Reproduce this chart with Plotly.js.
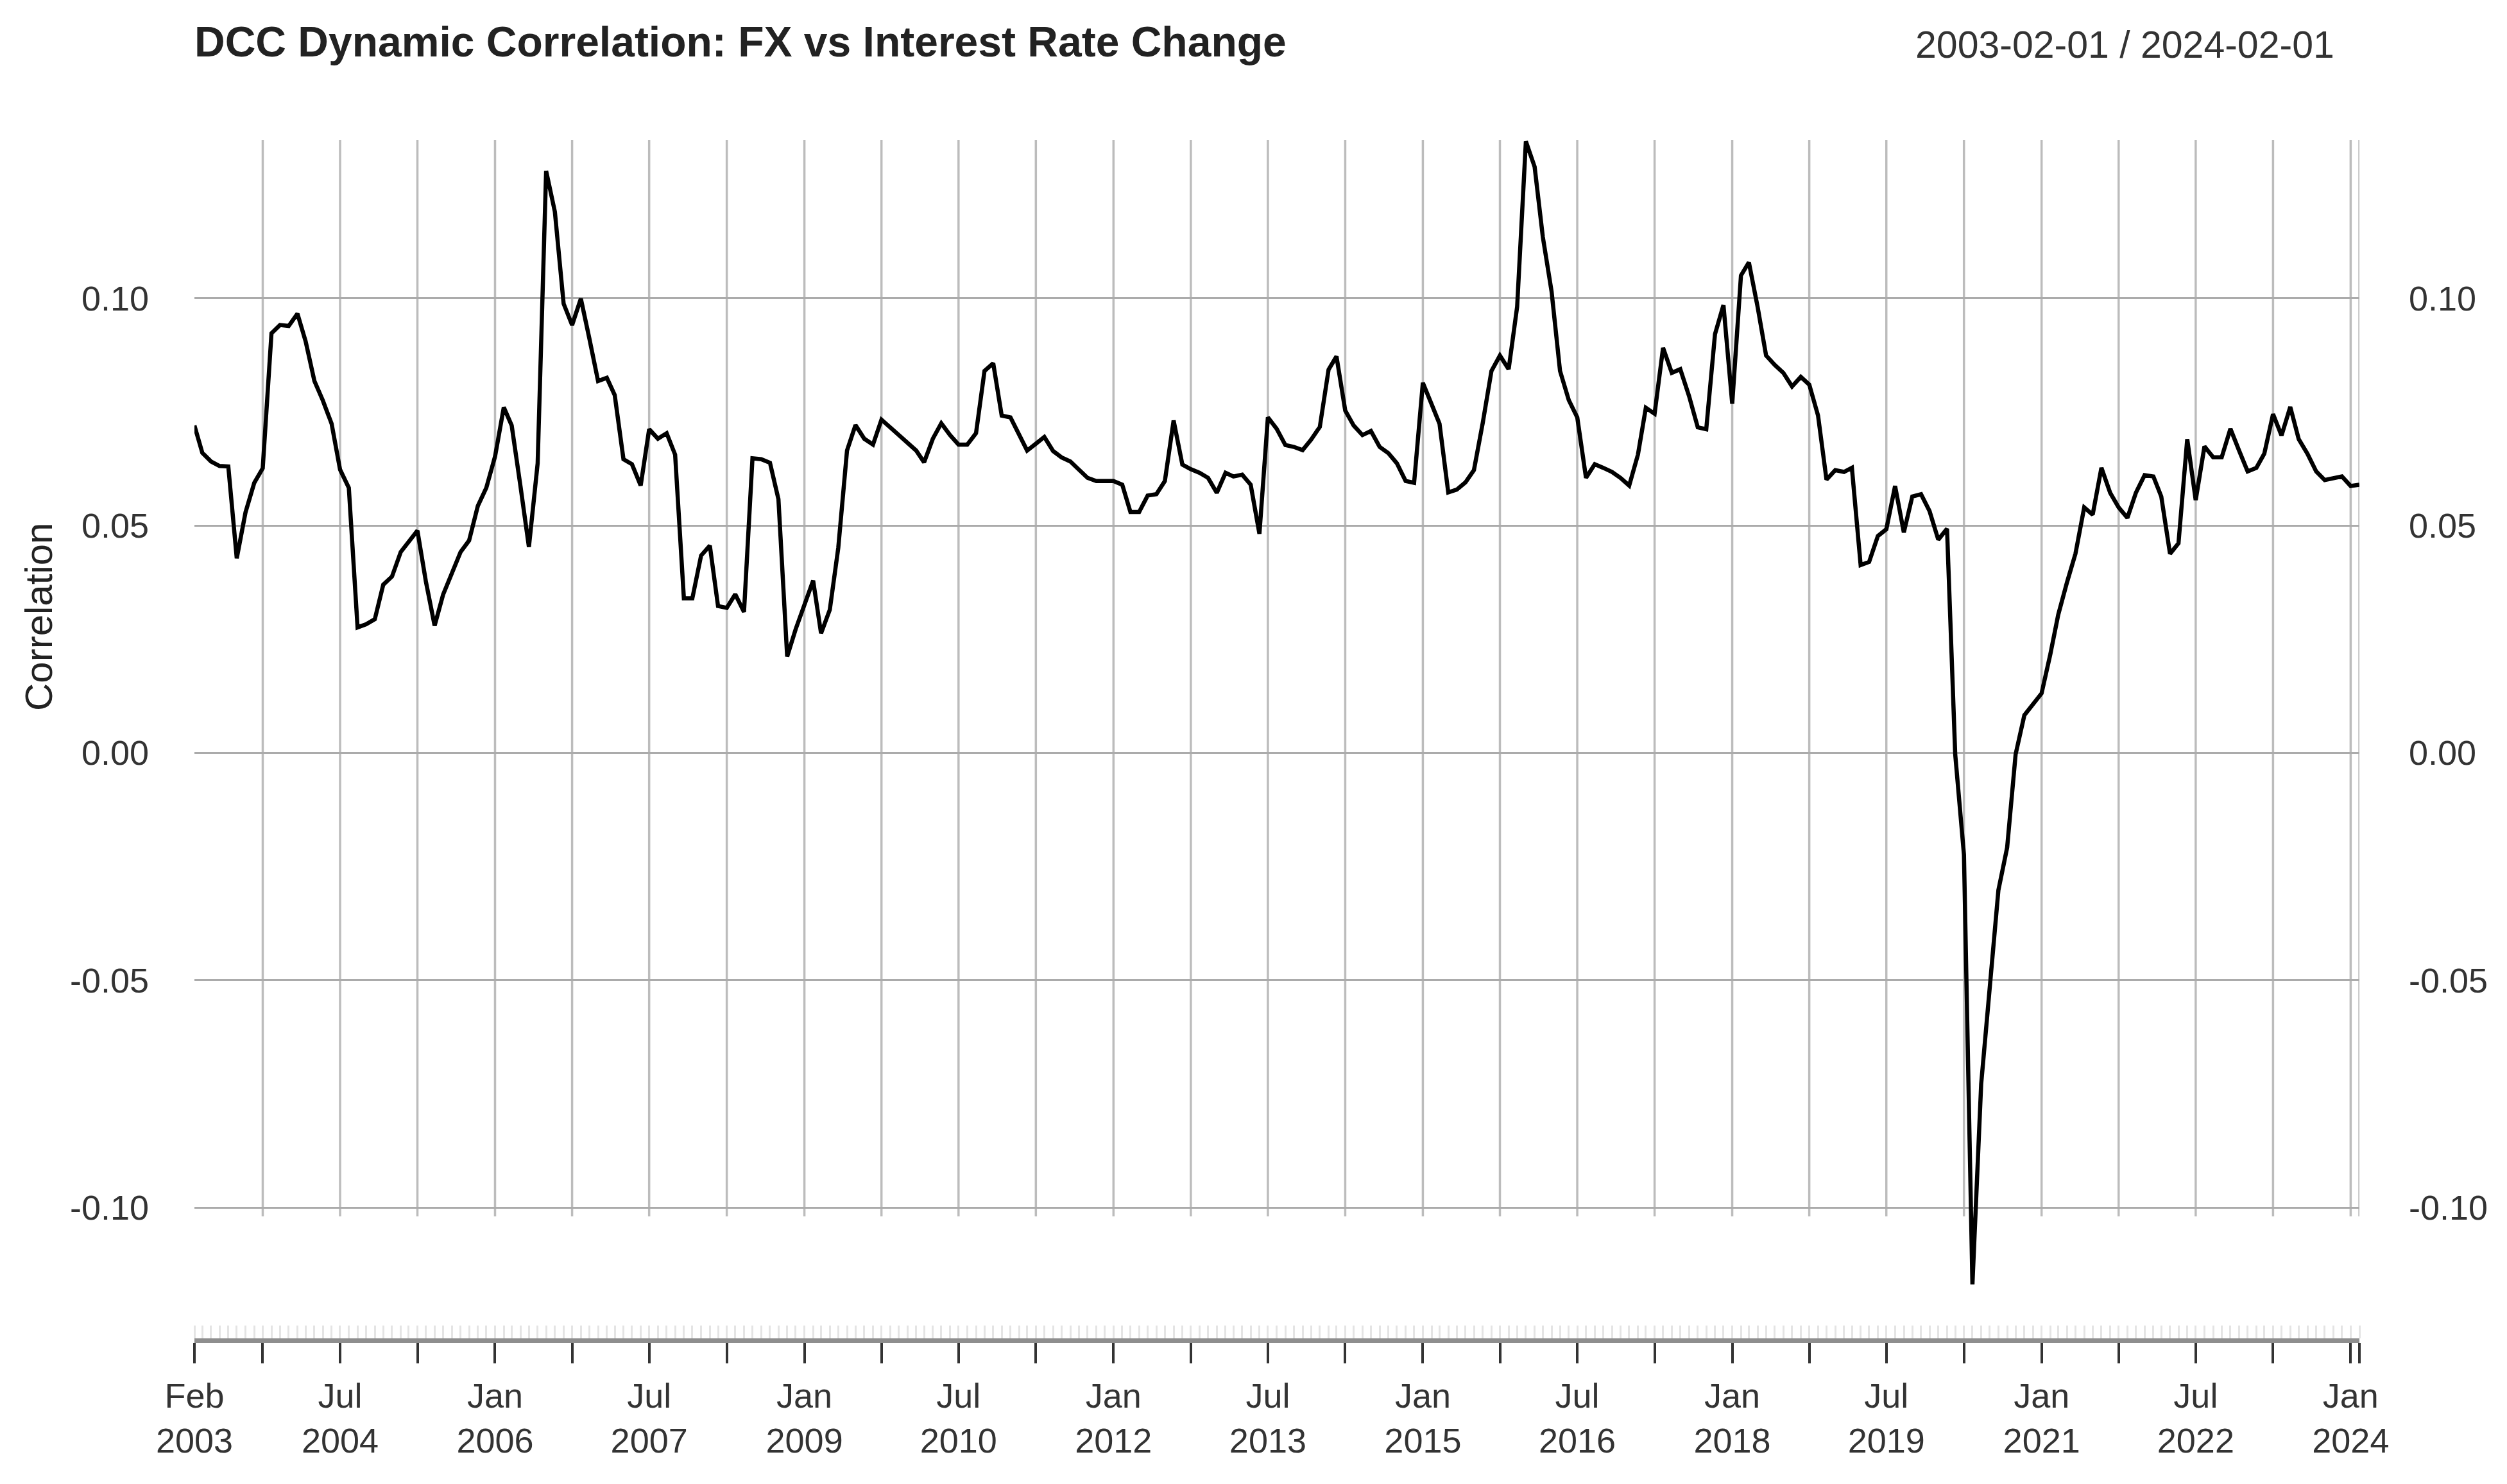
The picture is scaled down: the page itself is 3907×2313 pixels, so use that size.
<!DOCTYPE html>
<html>
<head>
<meta charset="utf-8">
<script src="https://cdn.plot.ly/plotly-3.0.1.min.js"></script>
<style>
  html, body { margin: 0; padding: 0; background: #ffffff; }
  #chart { width: 3907px; height: 2313px; }
</style>
</head>
<body>
<div id="chart"></div>
<script>
// ---------------- DATA ----------------
const startDate = '2003-02-01';
const endDate = '2024-02-01';
const chartTitle = 'DCC Dynamic Correlation: FX vs Interest Rate Change';
const dateRangeLabel = '2003-02-01 / 2024-02-01';
const yAxisTitle = 'Correlation';

// Monthly DCC correlation, Feb 2003 - Jan 2007
const corr2003_2006 = [
  0.0720, 0.0660, 0.0641, 0.0631, 0.0630, 0.0428, 0.0529, 0.0594, 0.0626, 0.0923, 0.0941, 0.0939,
  0.0966, 0.0905, 0.0818, 0.0775, 0.0724, 0.0623, 0.0583, 0.0276, 0.0283, 0.0294, 0.0370, 0.0388,
  0.0442, 0.0464, 0.0489, 0.0377, 0.0280, 0.0348, 0.0398, 0.0442, 0.0467, 0.0543, 0.0583, 0.0652,
  0.0760, 0.0720, 0.0587, 0.0453, 0.0637, 0.1280, 0.1190, 0.0988, 0.0941, 0.0999, 0.0912, 0.0818
];
// Feb 2007 - Jan 2011
const corr2007_2010 = [
  0.0825, 0.0787, 0.0646, 0.0635, 0.0588, 0.0712, 0.0691, 0.0703, 0.0656, 0.0340, 0.0340, 0.0434,
  0.0456, 0.0323, 0.0319, 0.0349, 0.0310, 0.0648, 0.0646, 0.0638, 0.0558, 0.0212, 0.0272, 0.0327,
  0.0379, 0.0263, 0.0315, 0.0451, 0.0665, 0.0721, 0.0691, 0.0678, 0.0733, 0.0716, 0.0699, 0.0682,
  0.0665, 0.0639, 0.0691, 0.0725, 0.0699, 0.0678, 0.0678, 0.0703, 0.0840, 0.0857, 0.0742, 0.0738
];
// Feb 2011 - Jan 2015
const corr2011_2014 = [
  0.0699, 0.0665, 0.0680, 0.0695, 0.0664, 0.0650, 0.0641, 0.0623, 0.0605, 0.0598, 0.0598, 0.0598,
  0.0590, 0.0530, 0.0530, 0.0566, 0.0569, 0.0598, 0.0731, 0.0634, 0.0624, 0.0616, 0.0605, 0.0572,
  0.0616, 0.0608, 0.0612, 0.0590, 0.0482, 0.0738, 0.0713, 0.0677, 0.0673, 0.0666, 0.0689, 0.0717,
  0.0843, 0.0872, 0.0753, 0.0720, 0.0699, 0.0708, 0.0673, 0.0659, 0.0637, 0.0598, 0.0594, 0.0814
];
// Feb 2015 - Jan 2019
const corr2015_2018 = [
  0.0767, 0.0724, 0.0573, 0.0579, 0.0595, 0.0622, 0.0725, 0.0840, 0.0874, 0.0844, 0.0981, 0.1345,
  0.1289, 0.1135, 0.1015, 0.0840, 0.0776, 0.0738, 0.0605, 0.0635, 0.0627, 0.0618, 0.0605, 0.0588,
  0.0656, 0.0759, 0.0746, 0.0891, 0.0836, 0.0844, 0.0785, 0.0716, 0.0712, 0.0921, 0.0985, 0.0768,
  0.1050, 0.1079, 0.0981, 0.0874, 0.0853, 0.0836, 0.0806, 0.0827, 0.0810, 0.0742, 0.0601, 0.0622
];
// Feb 2019 - Feb 2024
const corr2019_2024 = [
  0.0618, 0.0627, 0.0413, 0.0420, 0.0477, 0.0492, 0.0587, 0.0485, 0.0564, 0.0569, 0.0532, 0.0469,
  0.0493, -0.0003, -0.0224, -0.1169, -0.0728, -0.0507, -0.0302, -0.0208, -0.0003, 0.0083, 0.0107, 0.0131,
  0.0217, 0.0304, 0.0375, 0.0438, 0.0540, 0.0524, 0.0627, 0.0572, 0.0540, 0.0517, 0.0572, 0.0611,
  0.0608, 0.0564, 0.0438, 0.0461, 0.0690, 0.0556, 0.0674, 0.0650, 0.0650, 0.0713, 0.0666, 0.0619,
  0.0627, 0.0658, 0.0745, 0.0698, 0.0761, 0.0690, 0.0658, 0.0619, 0.0600, 0.0603, 0.0608, 0.0587,
  0.0590
];

// x-axis ticks (every 9 months) and their labels
const xTickVals = [
  '2003-02-01', '2003-10-01', '2004-07-01', '2005-04-01', '2006-01-01', '2006-10-01',
  '2007-07-01', '2008-04-01', '2009-01-01', '2009-10-01', '2010-07-01', '2011-04-01',
  '2012-01-01', '2012-10-01', '2013-07-01', '2014-04-01', '2015-01-01', '2015-10-01',
  '2016-07-01', '2017-04-01', '2018-01-01', '2018-10-01', '2019-07-01', '2020-04-01',
  '2021-01-01', '2021-10-01', '2022-07-01', '2023-04-01', '2024-01-01', '2024-02-01'
];
const xTickText = [
  'Feb<br>2003', '', 'Jul<br>2004', '', 'Jan<br>2006', '',
  'Jul<br>2007', '', 'Jan<br>2009', '', 'Jul<br>2010', '',
  'Jan<br>2012', '', 'Jul<br>2013', '', 'Jan<br>2015', '',
  'Jul<br>2016', '', 'Jan<br>2018', '', 'Jul<br>2019', '',
  'Jan<br>2021', '', 'Jul<br>2022', '', 'Jan<br>2024', ''
];
const yTickVals = [-0.10, -0.05, 0.00, 0.05, 0.10];
const yTickText = ['-0.10', '-0.05', '0.00', '0.05', '0.10'];

// ---------------- BUILD ----------------
const corrValues = [].concat(corr2003_2006, corr2007_2010, corr2011_2014, corr2015_2018, corr2019_2024);
const pad2 = n => (n < 10 ? '0' : '') + n;
const sY = +startDate.slice(0, 4), sM = +startDate.slice(5, 7) - 1;
const dates = corrValues.map((_, i) => {
  const d = new Date(Date.UTC(sY, sM + i, 1));
  return d.getUTCFullYear() + '-' + pad2(d.getUTCMonth() + 1) + '-01';
});

const FONT = 'Liberation Sans, Arial, Helvetica, sans-serif';
const yRange = [-0.12876, 0.13483];
const gridBottom = -0.1019;

const gridShapes = xTickVals.slice(1).map(d => ({
  type: 'line', xref: 'x', yref: 'y', x0: d, x1: d, y0: gridBottom, y1: yRange[1],
  line: { color: '#bcbcbc', width: 3.5 }, layer: 'below'
}));

const trace = {
  type: 'scatter', mode: 'lines', x: dates, y: corrValues,
  line: { color: '#000000', width: 6.5 }, showlegend: false, hoverinfo: 'x+y'
};

const layout = {
  width: 3907, height: 2313,
  margin: { l: 303, r: 230, t: 218, b: 227, pad: 0 },
  paper_bgcolor: '#ffffff', plot_bgcolor: '#ffffff',
  showlegend: false,
  font: { family: FONT, color: '#333333', size: 54 },
  title: {
    text: chartTitle,
    font: { family: FONT, size: 66, color: '#222222', weight: 'bold' },
    xref: 'container', x: 303 / 3907, xanchor: 'left',
    yref: 'container', y: 1 - 65 / 2313, yanchor: 'middle'
  },
  xaxis: {
    type: 'date', range: [startDate, endDate],
    showgrid: false, zeroline: false,
    showline: true, linecolor: '#8e8e8e', linewidth: 7,
    tickmode: 'array', tickvals: xTickVals, ticktext: xTickText,
    ticks: 'outside', ticklen: 32, tickwidth: 4, tickcolor: '#333333',
    tickfont: { family: FONT, size: 54, color: '#333333' },
    ticklabelstandoff: 4,
    minor: { ticks: 'inside', ticklen: 20, tickwidth: 3, tickcolor: '#e4e4e4', dtick: 'M1', tick0: startDate, showgrid: false },
    fixedrange: true
  },
  yaxis: {
    range: yRange, showgrid: true, gridcolor: '#ababab', gridwidth: 3,
    zeroline: false, showline: false,
    tickmode: 'array', tickvals: yTickVals, ticktext: yTickText,
    ticks: '', ticklabelstandoff: 70,
    tickfont: { family: FONT, size: 54, color: '#333333' },
    fixedrange: true
  },
  yaxis2: {
    overlaying: 'y', side: 'right', anchor: 'x', range: yRange,
    showgrid: false, zeroline: false, showline: false,
    tickmode: 'array', tickvals: yTickVals, ticktext: yTickText,
    ticks: '', ticklabelstandoff: 76,
    tickfont: { family: FONT, size: 54, color: '#333333' },
    fixedrange: true
  },
  shapes: gridShapes,
  annotations: [
    {
      text: dateRangeLabel, xref: 'paper', yref: 'paper',
      x: (3640 - 303) / 3374, xanchor: 'right',
      y: (2086 - 70) / 1868, yanchor: 'middle',
      showarrow: false, font: { family: FONT, size: 59, color: '#333333' }
    },
    {
      text: yAxisTitle, xref: 'paper', yref: 'paper', textangle: -90,
      x: (60 - 303) / 3374, xanchor: 'center',
      y: (2086 - 962) / 1868, yanchor: 'middle',
      showarrow: false, font: { family: FONT, size: 60, color: '#222222' }
    }
  ]
};

const trace2 = {
  type: 'scatter', mode: 'lines', x: dates, y: corrValues, yaxis: 'y2',
  line: { color: 'rgba(0,0,0,0)', width: 0 }, showlegend: false, hoverinfo: 'skip'
};

Plotly.newPlot('chart', [trace, trace2], layout, { staticPlot: true, displayModeBar: false });
</script>
</body>
</html>
